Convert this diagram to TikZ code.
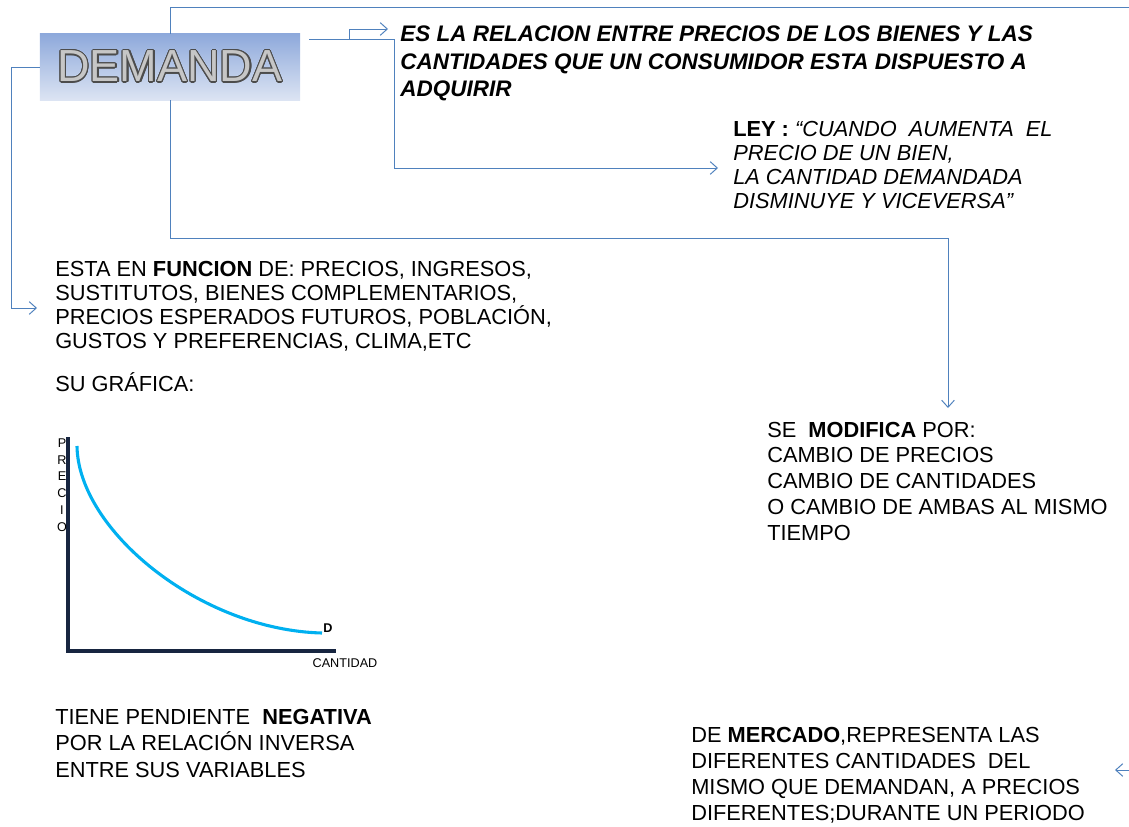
\documentclass[tikz,border=0pt]{standalone}
\usepackage{fontspec}
\setmainfont{Liberation Sans}
\usepackage[copies]{contour}
\usetikzlibrary{arrows.meta, calc, positioning}

\definecolor{linkblue}{RGB}{79,129,189}
\definecolor{boxtop}{RGB}{142,169,219}
\definecolor{boxbot}{RGB}{220,228,243}
\definecolor{curvecyan}{RGB}{0,176,240}
\definecolor{axisnavy}{RGB}{23,37,64}
\contourlength{0.8pt}

\begin{document}
\begin{tikzpicture}[x=0.025cm, y=-0.025cm,
    link/.style={draw=linkblue, line width=0.7pt, -{Straight Barb[length=5pt,width=9pt]}},
    txt/.style={anchor=base west, inner sep=0pt, align=left, font=\fontsize{15.5}{16.9}\selectfont},
    axlbl/.style={inner sep=0pt, font=\fontsize{9}{10}\selectfont}]
    \useasboundingbox (0,0) rectangle (1129,827);
    \clip (0,0) rectangle (1129,827);

    % Title box
    \node[inner sep=0pt, minimum width=6.5cm, minimum height=1.65cm,
        top color=boxtop, bottom color=boxbot] (dem) at (170,67)
        {\fontsize{32}{34}\selectfont\contour{black!70}{\textcolor{gray!45}{DEMANDA}}};

    % Texts (base = last line)
    \node[txt, font=\fontsize{16}{19.6}\selectfont\bfseries\itshape] (esla) at (400,97)
        {ES LA RELACION ENTRE PRECIOS DE LOS BIENES Y LAS\\
         CANTIDADES QUE UN CONSUMIDOR ESTA DISPUESTO A\\ADQUIRIR};
    \node[txt, font=\fontsize{15.5}{16.9}\selectfont] (ley) at (733,208)
        {\textbf{LEY :} \textit{“CUANDO \ AUMENTA \ EL}\\
         \textit{PRECIO DE UN BIEN,}\\
         \textit{LA CANTIDAD DEMANDADA}\\
         \textit{DISMINUYE Y VICEVERSA”}};
    \node[txt] (func) at (55,348)
        {ESTA EN \textbf{FUNCION} DE: PRECIOS, INGRESOS,\\
         SUSTITUTOS, BIENES COMPLEMENTARIOS,\\
         PRECIOS ESPERADOS FUTUROS, POBLACIÓN,\\
         GUSTOS Y PREFERENCIAS, CLIMA,ETC};
    \node[txt] (graf) at (55,391) {SU GRÁFICA:};
    \node[txt, font=\fontsize{15.5}{18.3}\selectfont] (modif) at (767,540)
        {SE \ \textbf{MODIFICA} POR:\\
         CAMBIO DE PRECIOS\\
         CAMBIO DE CANTIDADES\\
         O CAMBIO DE AMBAS AL MISMO\\
         TIEMPO};
    \node[txt, font=\fontsize{15.5}{18.5}\selectfont] (pend) at (55,777)
        {TIENE PENDIENTE \ \textbf{NEGATIVA}\\
         POR LA RELACIÓN INVERSA\\
         ENTRE SUS VARIABLES};
    \node[txt, font=\fontsize{15.5}{18.3}\selectfont] (merc) at (691,820)
        {DE \textbf{MERCADO},REPRESENTA LAS\\
         DIFERENTES CANTIDADES \ DEL\\
         MISMO QUE DEMANDAN, A PRECIOS\\
         DIFERENTES;DURANTE UN PERIODO};

    % Graph
    \coordinate (orig) at (68,651);
    \draw[axisnavy, line width=2.2pt] (68,437) -- (orig) -- (336,651);
    \draw[curvecyan, line width=2.2pt] (77,446) .. controls (78,530) and (200,630) .. (322,633);
    \foreach \l [count=\i from 0] in {P,R,E,C,I,O}
        \node[axlbl] (p\i) at (62,443+16.8*\i) {\l};
    \node[axlbl, font=\fontsize{9}{10}\selectfont\bfseries] (dlbl) at (328,628) {D};
    \node[axlbl] (cant) at (345,663) {CANTIDAD};

    % Connectors
    \coordinate (esIn) at (388,29);
    \coordinate (leyIn) at (718,168);
    \coordinate (modIn) at (948,408);
    \coordinate (mercIn) at (1115,770);
    \coordinate (funcIn) at (37,308);
    \draw[link] (309,39) -| ($(esIn)+(-39,0)$) -- (esIn);
    \draw[link] (318,39) -| ($(leyIn)+(-324,0)$) -- (leyIn);
    \draw[link] (dem.north) |- (1145,7) |- (mercIn);
    \draw[link] (dem.south) |- ($(modIn)+(0,-170)$) -- (modIn);
    \draw[link] (dem.west) -| ($(funcIn)+(-26,0)$) -- (funcIn);
\end{tikzpicture}
\end{document}
